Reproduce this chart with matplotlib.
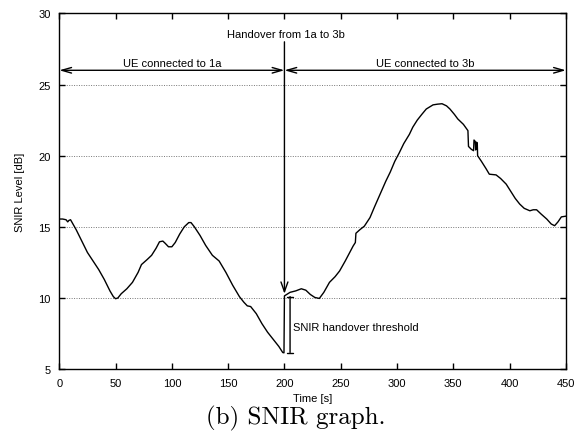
import matplotlib
matplotlib.use("Agg")
import matplotlib.pyplot as plt

# SNIR trace (time [s], level [dB])
time_s = [0, 3, 6, 7.5, 8.5, 10, 15, 20, 25, 30, 35, 40, 45, 48, 50, 52, 55, 60,
          65, 70, 73, 78, 82, 86, 89, 92, 94, 97, 100, 103, 107, 111, 115, 117,
          120, 125, 130, 136, 142, 148, 154, 160, 164, 167, 170, 175, 180, 185,
          190, 195, 198.5, 199.6, 200, 205, 210, 215, 219, 223, 227, 231, 235,
          240, 245, 249, 254, 258, 261, 263, 263.5, 267, 271, 276, 280, 285, 290,
          294, 298, 302, 306, 311, 314, 318, 322, 326, 332, 336, 340, 344, 347,
          351, 354, 359, 363, 363.5, 366, 368, 368.4, 369.5, 369.9, 370.6, 371.3,
          371.6, 375, 379, 382, 388, 392, 397, 401, 405, 409, 413, 418, 421, 424,
          428, 433, 437, 440, 443, 446, 450]
snir_db = [15.55, 15.55, 15.5, 15.35, 15.45, 15.5, 14.8, 14.0, 13.2, 12.6, 12.0,
           11.3, 10.5, 10.1, 9.95, 10.0, 10.3, 10.65, 11.1, 11.8, 12.35, 12.7,
           13.0, 13.5, 13.95, 14.0, 13.85, 13.6, 13.6, 13.9, 14.5, 15.0, 15.3,
           15.3, 15.0, 14.4, 13.7, 13.0, 12.6, 11.8, 10.9, 10.1, 9.7, 9.45, 9.4,
           8.9, 8.2, 7.6, 7.1, 6.6, 6.17, 6.15, 10.15, 10.4, 10.5, 10.65, 10.55,
           10.25, 10.04, 9.97, 10.4, 11.1, 11.5, 11.9, 12.6, 13.2, 13.65, 13.9,
           14.55, 14.8, 15.05, 15.65, 16.4, 17.3, 18.2, 18.85, 19.6, 20.2, 20.85,
           21.5, 22.0, 22.5, 22.9, 23.28, 23.57, 23.62, 23.65, 23.5, 23.28, 22.9,
           22.58, 22.2, 21.76, 20.65, 20.45, 20.35, 21.1, 21.0, 20.4, 20.95, 20.9,
           20.0, 19.6, 19.1, 18.7, 18.65, 18.4, 18.0, 17.5, 17.0, 16.6, 16.3,
           16.13, 16.2, 16.2, 15.9, 15.55, 15.2, 15.08, 15.35, 15.7, 15.75]

x_ticks = [0, 50, 100, 150, 200, 250, 300, 350, 400, 450]
y_ticks = [5, 10, 15, 20, 25, 30]

handover_t = 200
threshold_low, threshold_high = 6.17, 10.1

plt.rcParams["font.family"] = ["Liberation Sans", "DejaVu Sans"]

fig = plt.figure(figsize=(5.87, 4.35), dpi=100)
ax = fig.add_axes([0.101, 0.149, 0.863, 0.818])

ax.plot(time_s, snir_db, color="black", lw=1.0)

ax.set_xlim(0, 450)
ax.set_ylim(5, 30)
ax.set_xticks(x_ticks)
ax.set_yticks(y_ticks)
ax.tick_params(direction="in", length=4, width=1, labelsize=8,
               top=True, right=True, pad=6)
ax.yaxis.grid(True, linestyle=(0, (1, 1.5)), color="#777777", lw=0.7)
for s in ax.spines.values():
    s.set_linewidth(1)

ax.set_xlabel("Time [s]", fontsize=8, labelpad=4)
ax.set_ylabel("SNIR Level [dB]", fontsize=8, labelpad=10)

# handover arrow
ax.annotate("", xy=(handover_t, 10.3), xytext=(handover_t, 28),
            arrowprops=dict(arrowstyle="->,head_length=0.7,head_width=0.25",
                            color="black", lw=1, shrinkA=0, shrinkB=0))
ax.text(handover_t + 1, 28.55, "Handover from 1a to 3b", ha="center",
        va="center", fontsize=8)

# connection periods
for x0, x1, label in [(0, handover_t, "UE connected to 1a"),
                      (handover_t, 450, "UE connected to 3b")]:
    ax.annotate("", xy=(x0, 26), xytext=(x1, 26),
                arrowprops=dict(arrowstyle="<->,head_length=0.7,head_width=0.2",
                                color="black", lw=1, shrinkA=0, shrinkB=0))
    ax.text((x0 + x1) / 2, 26.5, label, ha="center", va="center", fontsize=8)

# threshold bracket
ax.annotate("", xy=(205, threshold_low), xytext=(205, threshold_high),
            arrowprops=dict(arrowstyle="|-|,widthA=0.2,widthB=0.2",
                            color="black", lw=1, shrinkA=0, shrinkB=0))
ax.text(208, 7.95, "SNIR handover threshold", ha="left", va="center", fontsize=8)

fig.text(0.504, 0.037, "(b) SNIR graph.", ha="center", va="center",
         fontsize=18, family="cmr10")

fig.savefig("out.png", dpi=100)
